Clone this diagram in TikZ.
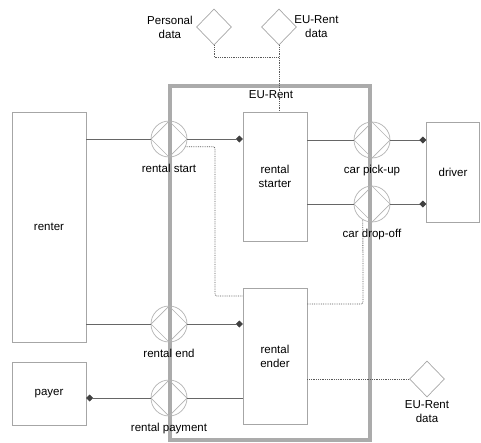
\documentclass[tikz,border=0pt]{standalone}
\usepackage{fontspec}
\setmainfont{Liberation Sans}
\usetikzlibrary{arrows.meta,positioning,shapes.geometric}

\begin{document}
\begin{tikzpicture}[
      x=1pt, y=-1pt,
      font=\fontsize{11.5}{14}\selectfont,
      actor/.style={draw=black!35, align=center, inner sep=0pt},
      event/.style={circle, draw=black!30, line width=0.7pt, minimum size=36pt, inner sep=0pt,
        path picture={\draw[black!30, line width=0.7pt]
          (path picture bounding box.north) -- (path picture bounding box.east)
          -- (path picture bounding box.south) -- (path picture bounding box.west) -- cycle;}},
      store/.style={diamond, draw=black!35, line width=0.7pt, minimum width=35pt,
        minimum height=36pt, inner sep=0pt},
      flow/.style={draw=black!60, line width=0.8pt},
      trigger/.style={flow, -{Diamond[length=7pt,width=7pt,color=black!75]}},
      access/.style={draw=black!65, densely dotted, line width=0.8pt},
      boundary/.style={draw=black!33, line width=4pt},
      evlabel/.style={label distance=3pt}
    ]
    \useasboundingbox (0,0) rectangle (481,442);

    % system boundary
    \draw[boundary] (170,86) rectangle (370,440);
    \node (euRent) at (271,95) {EU-Rent};

    % actors
    \node[actor, minimum width=74pt, minimum height=230pt] (renter) at (49,227) {renter};
    \node[actor, minimum width=74pt, minimum height=63pt, below=20pt of renter] (payer) {payer};
    \node[actor, minimum width=53pt, minimum height=100pt] (driver) at (453,172) {driver};
    \node[actor, minimum width=64pt, minimum height=129pt] (rentalStarter) at (275,176.5) {rental\\starter};
    \node[actor, minimum width=64pt, minimum height=136pt, below=47pt of rentalStarter] (rentalEnder) {rental\\ender};

    % data stores
    \node[store, label={[align=center]left:Personal\\data}] (personalData) at (214,27) {};
    \node[store, label={[align=center, label distance=-6pt]right:EU-Rent\\data}] (euRentTop) at (279,27) {};
    \node[store, label={[align=center]below:EU-Rent\\data}] (euRentBottom) at (427,379) {};

    % events
    \node[event, label={[evlabel]below:rental start}] (rentalStart) at (169,139) {};
    \node[event, label={[evlabel]below:rental end}] (rentalEnd) at (169,324) {};
    \node[event, label={[evlabel]below:rental payment}] (rentalPayment) at (169,398) {};
    \node[event, label={[evlabel]below:car pick-up}] (carPickUp) at (372,140) {};
    \node[event, label={[evlabel]below:car drop-off}] (carDropOff) at (372,204) {};

    \coordinate (startBend) at (215,296);
    \coordinate (dropBend) at (363,304);

    % message flows
    \draw[flow] (renter.east |- rentalStart) -- (rentalStart.west);
    \draw[trigger] (rentalStart.east) -- (rentalStart -| rentalStarter.west);
    \draw[flow] (rentalStarter.east |- carPickUp) -- (carPickUp.west);
    \draw[trigger] (carPickUp.east) -- (carPickUp -| driver.west);
    \draw[flow] (rentalStarter.east |- carDropOff) -- (carDropOff.west);
    \draw[trigger] (carDropOff.east) -- (carDropOff -| driver.west);
    \draw[flow] (renter.east |- rentalEnd) -- (rentalEnd.west);
    \draw[trigger] (rentalEnd.east) -- (rentalEnd -| rentalEnder.west);
    \draw[trigger] (rentalPayment.west) -- (rentalPayment -| payer.east);
    \draw[flow] (rentalPayment.east) -- (rentalPayment -| rentalEnder.west);

    % data access
    \draw[access] (personalData.south) -- ++(0,12) -| (euRentTop.south);
    \draw[access] (euRentTop.south) -- (euRentTop.south |- rentalStarter.north);
    \draw[access, rounded corners=2pt] (rentalStart.-25) -| (startBend) -- (startBend -| rentalEnder.west);
    \draw[access, rounded corners=2pt] (carDropOff.-120) -- (dropBend) -- (dropBend -| rentalEnder.east);
    \draw[access] (euRentBottom.west -| rentalEnder.east) -- (euRentBottom.west);
  \end{tikzpicture}
\end{document}
